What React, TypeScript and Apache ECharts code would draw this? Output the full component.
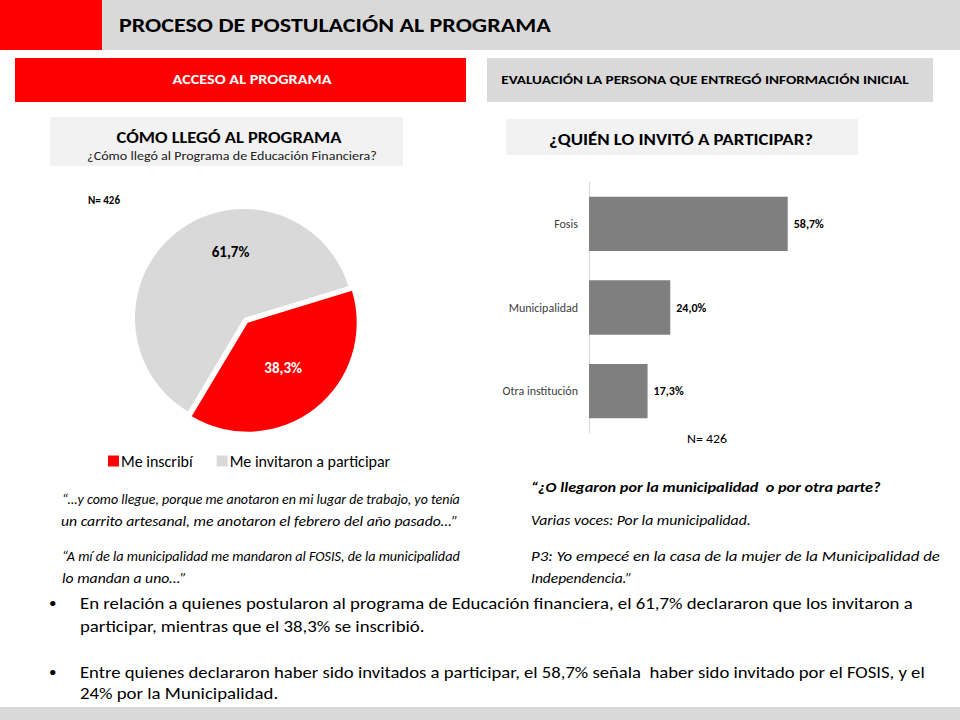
import React, { useEffect, useRef } from "react";
import * as echarts from "echarts";

const pieCategories = ["Me inscribí", "Me invitaron a participar"];
const pieValues = [38.3, 61.7];
const pieColors = ["#ff0000", "#d9d9d9"];

const barCategories = ["Fosis", "Municipalidad", "Otra institución"];
const barValues = [58.7, 24.0, 17.3];

const sampleLabel = "N= 426";

const quotesLeft = [
  "“…y como llegue, porque me anotaron en mi lugar de trabajo, yo tenía",
  "un carrito artesanal, me anotaron el febrero del año pasado…”",
  "“A mí de la municipalidad me mandaron al FOSIS, de la municipalidad",
  "lo mandan a uno…”",
];
const quotesRight = [
  "“¿O llegaron por la municipalidad  o por otra parte?",
  "Varias voces: Por la municipalidad.",
  "P3: Yo empecé en la casa de la mujer de la Municipalidad de",
  "Independencia.”",
];
const bullets = [
  "En relación a quienes postularon al programa de Educación financiera, el 61,7% declararon que los invitaron a",
  "participar, mientras que el 38,3% se inscribió.",
  "Entre quienes declararon haber sido invitados a participar, el 58,7% señala  haber sido invitado por el FOSIS, y el",
  "24% por la Municipalidad.",
];

const FONT = "Carlito, Lato, 'Liberation Sans', sans-serif";

const fmt = (v: number) => v.toFixed(1).replace(".", ",") + "%";

export default function App() {
  const ref = useRef<HTMLDivElement>(null);
  useEffect(() => {
    if (!ref.current) return;
    const chart = echarts.init(ref.current, null, { renderer: "svg" });

    const canvas = document.createElement("canvas");
    const ctx = canvas.getContext("2d") as CanvasRenderingContext2D;
    const measure = (text: string, s: any) => {
      ctx.font = `${s.fontStyle || "normal"} ${s.fontWeight || "normal"} ${s.fontSize}px ${FONT}`;
      return ctx.measureText(text).width;
    };

    // text element; fit = target width (px) or a fixed horizontal scale
    const txt = (x: number, y: number, text: string, style: any = {}, fit?: { w?: number; s?: number }) => {
      const st = { fontSize: 12, ...style };
      let sx = 1;
      if (fit && fit.w) sx = fit.w / measure(text, st);
      else if (fit && fit.s) sx = fit.s;
      return {
        type: "text",
        x,
        y,
        scaleX: sx,
        style: {
          text,
          fill: "#000",
          fontFamily: FONT,
          verticalAlign: "middle",
          ...st,
        },
      };
    };

    const qStyle = { fontStyle: "italic", fontSize: 13.5 };
    const qScaleL = 398 / measure(quotesLeft[1], qStyle);
    const bStyle = { fontSize: 16.5 };
    const bScale = 833 / measure(bullets[0], bStyle);

    const graphics: any[] = [
      { type: "rect", shape: { x: 0, y: 0, width: 960, height: 50 }, style: { fill: "#d9d9d9" } },
      { type: "rect", shape: { x: 0, y: 0, width: 102, height: 50 }, style: { fill: "#ff0000" } },
      txt(119, 25, "PROCESO DE POSTULACIÓN AL PROGRAMA", { fontSize: 21, fontWeight: 600 }, { w: 432 }),
      { type: "rect", shape: { x: 15, y: 58, width: 451, height: 44 }, style: { fill: "#ff0000" } },
      txt(252, 80, "ACCESO AL PROGRAMA", { fill: "#fff", fontWeight: "bold", fontSize: 13, align: "center" }, { w: 159 }),
      { type: "rect", shape: { x: 487, y: 58, width: 446, height: 44 }, style: { fill: "#d9d9d9" } },
      txt(705, 80, "EVALUACIÓN LA PERSONA QUE ENTREGÓ INFORMACIÓN INICIAL", { fontWeight: "bold", fontSize: 12, align: "center" }, { w: 408 }),
      { type: "rect", shape: { x: 50, y: 117, width: 353, height: 49 }, style: { fill: "#f2f2f2" } },
      txt(229, 137, "CÓMO LLEGÓ AL PROGRAMA", { fontWeight: "bold", fontSize: 16.5, align: "center" }, { w: 225 }),
      txt(232, 156, "¿Cómo llegó al Programa de Educación Financiera?", { fontSize: 12, align: "center", fill: "#222" }, { w: 290 }),
      { type: "rect", shape: { x: 506, y: 119, width: 352, height: 36 }, style: { fill: "#f2f2f2" } },
      txt(681, 139, "¿QUIÉN LO INVITÓ A PARTICIPAR?", { fontWeight: "bold", fontSize: 16.5, align: "center" }, { w: 264 }),
      txt(88, 201, sampleLabel, { fontWeight: "bold", fontSize: 11 }, { w: 32 }),
      txt(707, 439, sampleLabel, { fontSize: 13, align: "center" }, { w: 40 }),
      txt(62, 500, quotesLeft[0], qStyle, { w: 398 }),
      txt(61, 521, quotesLeft[1], qStyle, { s: qScaleL }),
      txt(62, 557, quotesLeft[2], qStyle, { w: 398 }),
      txt(62, 578, quotesLeft[3], qStyle, { s: qScaleL }),
      txt(531, 487, quotesRight[0], { ...qStyle, fontWeight: "bold" }, { w: 350 }),
      txt(531, 520, quotesRight[1], qStyle, { w: 220 }),
      txt(531, 556, quotesRight[2], qStyle, { w: 409 }),
      txt(531, 578, quotesRight[3], qStyle, { w: 101 }),
      txt(49, 603, "•", { fontSize: 15 }),
      txt(80, 603, bullets[0], bStyle, { s: bScale }),
      txt(80, 626, bullets[1], bStyle, { s: bScale }),
      txt(49, 672, "•", { fontSize: 15 }),
      txt(80, 672, bullets[2], bStyle, { w: 845 }),
      txt(80, 693, bullets[3], bStyle, { s: bScale }),
      { type: "rect", shape: { x: 0, y: 707, width: 960, height: 13 }, style: { fill: "#d9d9d9" } },
    ];

    chart.setOption({
      animation: false,
      color: pieColors,
      graphic: graphics,
      legend: {
        data: pieCategories,
        left: 108,
        top: 453,
        padding: 0,
        itemWidth: 11,
        itemHeight: 11,
        itemGap: 24,
        icon: "rect",
        textStyle: { fontFamily: FONT, fontSize: 16, color: "#000", padding: [0, 0, 0, -3] },
      },
      grid: { left: 589, top: 182, width: 237, height: 251 },
      xAxis: { type: "value", min: 0, max: 70, show: false },
      yAxis: {
        type: "category",
        data: barCategories,
        inverse: true,
        axisLine: { lineStyle: { color: "#d9d9d9" } },
        axisTick: { show: false },
        axisLabel: { fontFamily: FONT, fontSize: 12, color: "#404040", margin: 11 },
      },
      series: [
        {
          type: "pie",
          center: [244, 318],
          radius: 109,
          startAngle: 17,
          selectedMode: "single",
          selectedOffset: 6,
          legendHoverLink: false,
          label: {
            position: "inside",
            fontFamily: FONT,
            fontWeight: "bold",
            fontSize: 15,
            formatter: (p: any) => fmt(p.value),
          },
          labelLine: { show: false },
          emphasis: { disabled: true },
          data: pieCategories.map((name, i) => ({
            name,
            value: pieValues[i],
            selected: i === 0,
            itemStyle: { color: pieColors[i] },
            label: i === 0 ? { color: "#fff" } : { color: "#000", offset: [22, -21] },
          })),
        },
        {
          type: "bar",
          data: barValues,
          barCategoryGap: "35%",
          itemStyle: { color: "#7f7f7f" },
          label: {
            show: true,
            position: "right",
            distance: 6,
            fontFamily: FONT,
            fontWeight: "bold",
            fontSize: 12,
            color: "#000",
            formatter: (p: any) => fmt(p.value),
          },
          emphasis: { disabled: true },
        },
      ],
    });
    return () => chart.dispose();
  }, []);
  return (
    <div
      ref={ref}
      style={{ position: "absolute", left: 0, top: 0, width: 960, height: 720, background: "#fff" }}
    />
  );
}
